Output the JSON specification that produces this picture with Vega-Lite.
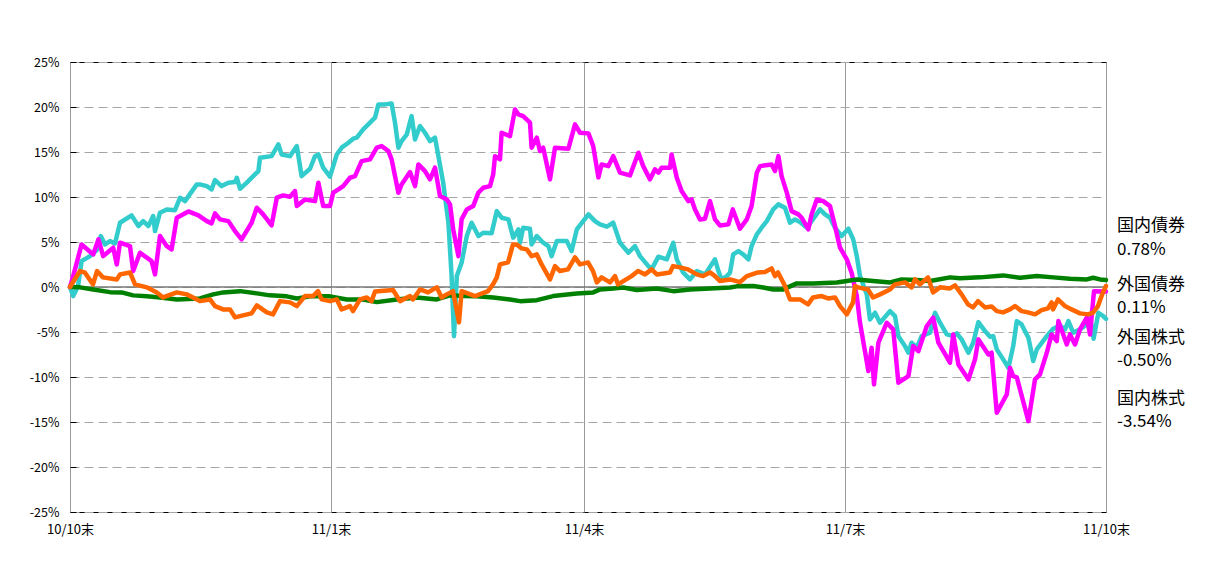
{
"$schema": "https://vega.github.io/schema/vega-lite/v6.json",
"width": 1036,
"height": 450,
"autosize": {"type": "none"},
"padding": {"left": 70, "top": 62, "right": 99, "bottom": 54},
"background": "white",
"config": {"view": {"stroke": "black", "strokeWidth": 1}, "font": "Noto Sans CJK JP"},
"datasets": {
"kokunai_kabu": [
{"d":0,"v":0},{"d":0.8,"v":-1.01},{"d":2,"v":0.07},{"d":2.9,"v":2.88},{"d":5,"v":3.43},{"d":6.7,"v":4.1},{"d":7.7,"v":5.66},{"d":8.75,"v":4.73},{"d":10,"v":5.1},{"d":11.25,"v":4.84},{"d":12.5,"v":7.14},{"d":15.4,"v":7.96},{"d":17.1,"v":6.77},{"d":18.3,"v":7.32},{"d":19.6,"v":6.77},{"d":20.8,"v":7.88},{"d":21.25,"v":6.21},{"d":22.5,"v":8.26},{"d":24.2,"v":8.62},{"d":26.25,"v":8.54},{"d":27.5,"v":9.92},{"d":28.75,"v":9.54},{"d":31.7,"v":11.4},{"d":32.5,"v":11.4},{"d":34.2,"v":11.21},{"d":35.4,"v":10.84},{"d":36.25,"v":11.88},{"d":37.9,"v":11.21},{"d":39.6,"v":11.59},{"d":41.25,"v":11.66},{"d":41.7,"v":12.14},{"d":42.5,"v":10.92},{"d":44.2,"v":11.59},{"d":46.25,"v":12.51},{"d":47.1,"v":12.88},{"d":47.5,"v":14.37},{"d":50.4,"v":14.54},{"d":52.1,"v":15.84},{"d":52.9,"v":14.73},{"d":55,"v":14.54},{"d":56.7,"v":15.66},{"d":57.9,"v":12.32},{"d":60,"v":13.14},{"d":61.25,"v":14.54},{"d":62.1,"v":14.73},{"d":63.3,"v":13.26},{"d":65,"v":12.26},{"d":66.7,"v":14.73},{"d":67.9,"v":15.48},{"d":69.6,"v":16.03},{"d":70.8,"v":16.48},{"d":71.7,"v":16.59},{"d":73.3,"v":17.51},{"d":75,"v":18.26},{"d":76.25,"v":18.81},{"d":77.1,"v":20.29},{"d":78.75,"v":20.29},{"d":80.4,"v":20.4},{"d":81.25,"v":18.26},{"d":82.1,"v":15.48},{"d":82.9,"v":16.21},{"d":84.2,"v":16.96},{"d":85.4,"v":18.99},{"d":86.25,"v":16.4},{"d":87.5,"v":17.88},{"d":88.75,"v":17.14},{"d":90,"v":16.21},{"d":91.25,"v":16.59},{"d":92.1,"v":14.54},{"d":93.3,"v":11.59},{"d":94.6,"v":7.14},{"d":95.4,"v":1.21},{"d":96,"v":-5.46},{"d":96.7,"v":1.21},{"d":97.9,"v":2.7},{"d":99.2,"v":5.66},{"d":100.4,"v":7.14},{"d":102.1,"v":5.66},{"d":103.3,"v":6.03},{"d":105.4,"v":5.96},{"d":106.7,"v":8.43},{"d":107.9,"v":7.7},{"d":109.6,"v":7.51},{"d":110.8,"v":5.48},{"d":112.1,"v":6.4},{"d":112.5,"v":4.92},{"d":113.3,"v":6.59},{"d":115,"v":6.48},{"d":115.4,"v":4.73},{"d":116.7,"v":5.66},{"d":118.3,"v":4.92},{"d":119.6,"v":4.54},{"d":120.4,"v":3.43},{"d":121.7,"v":5.1},{"d":124.2,"v":5.1},{"d":125.4,"v":3.99},{"d":126.7,"v":6.4},{"d":128.3,"v":7.32},{"d":129.6,"v":8.07},{"d":131.25,"v":7.32},{"d":132.5,"v":6.96},{"d":134.2,"v":6.7},{"d":135.8,"v":7.14},{"d":137.5,"v":4.92},{"d":139.6,"v":3.81},{"d":141.25,"v":4.54},{"d":142.5,"v":3.43},{"d":144.6,"v":2.32},{"d":145.4,"v":1.96},{"d":147.1,"v":3.37},{"d":149.2,"v":3.07},{"d":150.8,"v":4.92},{"d":151.7,"v":3.07},{"d":153.3,"v":1.59},{"d":155,"v":0.84},{"d":156.7,"v":1.77},{"d":158.75,"v":1.4},{"d":161.25,"v":3.07},{"d":162.1,"v":1.77},{"d":162.9,"v":0.84},{"d":164.2,"v":1.21},{"d":165,"v":1.59},{"d":165.8,"v":3.62},{"d":167.1,"v":3.99},{"d":168.3,"v":3.62},{"d":169.6,"v":3.07},{"d":170.4,"v":4.54},{"d":171.7,"v":5.84},{"d":172.9,"v":6.59},{"d":174.2,"v":7.32},{"d":175.8,"v":8.62},{"d":177.1,"v":9.18},{"d":178.75,"v":8.81},{"d":180,"v":7.14},{"d":181.25,"v":7.51},{"d":182.5,"v":7.21},{"d":184.2,"v":6.59},{"d":185.4,"v":7.32},{"d":187.5,"v":8.62},{"d":188.75,"v":8.07},{"d":190,"v":7.7},{"d":191.25,"v":6.59},{"d":192.9,"v":5.66},{"d":194.6,"v":6.48},{"d":195.8,"v":5.29},{"d":196.7,"v":3.43},{"d":197.5,"v":1.21},{"d":199.2,"v":-0.82},{"d":200,"v":-3.6},{"d":201.25,"v":-2.86},{"d":202.5,"v":-3.97},{"d":205,"v":-2.68},{"d":206.25,"v":-3.23},{"d":207.1,"v":-5.46},{"d":208.75,"v":-6.57},{"d":209.6,"v":-7.3},{"d":210.4,"v":-6.19},{"d":211.7,"v":-6.74},{"d":212.9,"v":-5.46},{"d":215,"v":-5.08},{"d":216.25,"v":-2.86},{"d":217.5,"v":-3.97},{"d":219.2,"v":-5.27},{"d":220.8,"v":-5.46},{"d":221.7,"v":-5.16},{"d":222.9,"v":-5.82},{"d":224.6,"v":-7.3},{"d":225.8,"v":-6.19},{"d":227.1,"v":-3.9},{"d":228.75,"v":-4.9},{"d":230,"v":-5.52},{"d":230.8,"v":-5.46},{"d":231.7,"v":-6.93},{"d":233.3,"v":-8.04},{"d":234.6,"v":-8.97},{"d":235.8,"v":-6.57},{"d":236.7,"v":-3.79},{"d":237.9,"v":-4.16},{"d":239.6,"v":-5.63},{"d":240.8,"v":-8.23},{"d":241.7,"v":-6.93},{"d":244.2,"v":-5.46},{"d":245.8,"v":-4.63},{"d":247.5,"v":-4.27},{"d":248.75,"v":-4.71},{"d":249.6,"v":-3.79},{"d":250.8,"v":-5.08},{"d":252.5,"v":-4.71},{"d":254.2,"v":-4.16},{"d":255,"v":-3.23},{"d":255.9,"v":-5.74},{"d":257.1,"v":-2.86},{"d":258.3,"v":-3.23},{"d":259,"v":-3.54}
],
"gaikoku_kabu": [
{"d":0,"v":0},{"d":1.25,"v":1.96},{"d":2.9,"v":4.73},{"d":5.8,"v":3.62},{"d":7.1,"v":5.29},{"d":8.3,"v":3.43},{"d":10.8,"v":4.37},{"d":11.7,"v":2.51},{"d":12.5,"v":4.92},{"d":15,"v":4.54},{"d":15.8,"v":1.77},{"d":17.5,"v":3.81},{"d":20.4,"v":2.88},{"d":21.25,"v":1.4},{"d":22.5,"v":5.66},{"d":24.2,"v":4.54},{"d":25.4,"v":4.18},{"d":26.7,"v":7.7},{"d":29.6,"v":8.4},{"d":32.1,"v":7.96},{"d":34.2,"v":7.32},{"d":35.4,"v":7.07},{"d":36.25,"v":8.18},{"d":37.5,"v":7.51},{"d":39.6,"v":7.32},{"d":41.25,"v":6.21},{"d":42.9,"v":5.29},{"d":45.4,"v":7.14},{"d":46.7,"v":8.81},{"d":48.3,"v":8.07},{"d":50.4,"v":6.84},{"d":51.7,"v":9.92},{"d":53.3,"v":10.18},{"d":55,"v":10.03},{"d":56.25,"v":10.66},{"d":56.7,"v":8.99},{"d":58.75,"v":9.73},{"d":61.25,"v":9.54},{"d":62.1,"v":11.59},{"d":63.3,"v":8.99},{"d":65,"v":8.99},{"d":65.8,"v":10.48},{"d":67.1,"v":10.84},{"d":68.3,"v":11.21},{"d":70,"v":12.14},{"d":71.25,"v":12.32},{"d":72.9,"v":13.99},{"d":75,"v":14.18},{"d":76.7,"v":15.48},{"d":77.9,"v":15.66},{"d":79.6,"v":15.1},{"d":80.4,"v":14.18},{"d":82.1,"v":10.48},{"d":82.9,"v":11.4},{"d":85,"v":12.77},{"d":86.25,"v":11.21},{"d":87.1,"v":13.62},{"d":88.75,"v":12.88},{"d":90,"v":11.96},{"d":91.25,"v":13.26},{"d":92.5,"v":10.1},{"d":94.2,"v":9.73},{"d":95,"v":9.18},{"d":95.8,"v":6.4},{"d":97.1,"v":3.43},{"d":97.9,"v":7.51},{"d":99.2,"v":8.62},{"d":100.8,"v":8.99},{"d":102.1,"v":10.48},{"d":103.3,"v":11.03},{"d":105,"v":11.21},{"d":105.8,"v":12.51},{"d":106.25,"v":14.54},{"d":107.5,"v":14.18},{"d":107.9,"v":17.14},{"d":110,"v":16.77},{"d":111.25,"v":19.73},{"d":112.1,"v":19.18},{"d":113.3,"v":18.99},{"d":115,"v":18.26},{"d":115.4,"v":15.48},{"d":116.7,"v":16.59},{"d":117.5,"v":15.1},{"d":118.3,"v":15.48},{"d":120,"v":11.96},{"d":121.25,"v":15.48},{"d":124.6,"v":15.37},{"d":126.25,"v":18.07},{"d":127.5,"v":17.14},{"d":129.6,"v":17.07},{"d":130.8,"v":15.66},{"d":132.1,"v":12.18},{"d":132.9,"v":13.62},{"d":134.6,"v":13.43},{"d":135.8,"v":14.54},{"d":137.5,"v":12.7},{"d":140,"v":12.4},{"d":142.1,"v":14.92},{"d":143.3,"v":13.43},{"d":145,"v":11.96},{"d":146.25,"v":13.07},{"d":147.1,"v":12.7},{"d":147.9,"v":13.26},{"d":150,"v":13.26},{"d":150.4,"v":14.73},{"d":151.7,"v":12.14},{"d":152.9,"v":10.66},{"d":154.6,"v":9.54},{"d":155.4,"v":9.73},{"d":156.25,"v":8.62},{"d":157.5,"v":7.51},{"d":158.75,"v":7.59},{"d":160,"v":9.54},{"d":161.25,"v":7.51},{"d":162.5,"v":6.84},{"d":164.6,"v":6.96},{"d":165.7,"v":8.62},{"d":167.5,"v":6.48},{"d":169.2,"v":7.51},{"d":170.4,"v":8.99},{"d":171.7,"v":12.7},{"d":172.5,"v":13.43},{"d":175.4,"v":13.62},{"d":176.25,"v":12.88},{"d":177.1,"v":14.54},{"d":177.9,"v":12.32},{"d":179.2,"v":10.48},{"d":180.4,"v":8.43},{"d":182.1,"v":8.07},{"d":182.9,"v":7.7},{"d":184.6,"v":6.4},{"d":185.4,"v":8.07},{"d":186.7,"v":9.73},{"d":188.3,"v":9.54},{"d":190,"v":8.99},{"d":191.25,"v":6.77},{"d":192.5,"v":4.37},{"d":194.2,"v":3.07},{"d":195.4,"v":1.59},{"d":196.7,"v":-1.01},{"d":197.5,"v":-3.97},{"d":199.6,"v":-9.34},{"d":200.4,"v":-6.74},{"d":201,"v":-10.82},{"d":202.1,"v":-6.19},{"d":204.2,"v":-3.97},{"d":205.8,"v":-4.71},{"d":207.1,"v":-10.63},{"d":209.6,"v":-9.9},{"d":210.8,"v":-6.57},{"d":212.1,"v":-7.12},{"d":214.2,"v":-4.34},{"d":215.8,"v":-3.41},{"d":217.1,"v":-6.19},{"d":220,"v":-8.41},{"d":220.8,"v":-5.27},{"d":222.1,"v":-8.6},{"d":224.6,"v":-10.27},{"d":226.25,"v":-8.04},{"d":227.1,"v":-5.82},{"d":229.6,"v":-7.49},{"d":230.4,"v":-7.3},{"d":231.7,"v":-13.97},{"d":234.2,"v":-11.93},{"d":235,"v":-8.97},{"d":235.8,"v":-9.9},{"d":236.7,"v":-10.04},{"d":239.6,"v":-14.9},{"d":241.25,"v":-10.27},{"d":242.5,"v":-9.71},{"d":244.2,"v":-7.3},{"d":245.4,"v":-5.27},{"d":246.7,"v":-6.01},{"d":247.1,"v":-3.79},{"d":249.2,"v":-6.38},{"d":250,"v":-5.27},{"d":251.25,"v":-6.38},{"d":252.5,"v":-4.71},{"d":254.2,"v":-3.41},{"d":255,"v":-5.27},{"d":256,"v":-0.46},{"d":259,"v":-0.5}
],
"kokunai_sai": [
{"d":0,"v":0},{"d":2.5,"v":-0.04},{"d":5.8,"v":-0.27},{"d":10,"v":-0.57},{"d":12.9,"v":-0.6},{"d":15.8,"v":-0.93},{"d":19.2,"v":-1.04},{"d":22.5,"v":-1.16},{"d":26.7,"v":-1.38},{"d":32.5,"v":-1.27},{"d":35.8,"v":-0.82},{"d":38.3,"v":-0.6},{"d":42.5,"v":-0.46},{"d":46.7,"v":-0.71},{"d":50,"v":-0.93},{"d":54.2,"v":-1.04},{"d":56.7,"v":-1.27},{"d":60,"v":-1.04},{"d":65,"v":-1.04},{"d":69.2,"v":-1.38},{"d":73.3,"v":-1.38},{"d":76.7,"v":-1.68},{"d":81.7,"v":-1.38},{"d":86.7,"v":-1.16},{"d":91.7,"v":-1.38},{"d":95,"v":-0.93},{"d":98.3,"v":-1.01},{"d":101.7,"v":-1.04},{"d":105.8,"v":-1.16},{"d":110,"v":-1.38},{"d":112.5,"v":-1.57},{"d":116.7,"v":-1.46},{"d":120.8,"v":-1.01},{"d":126.7,"v":-0.71},{"d":130.8,"v":-0.6},{"d":132.5,"v":-0.27},{"d":135.8,"v":-0.16},{"d":138.3,"v":-0.05},{"d":141.7,"v":-0.34},{"d":146.7,"v":-0.16},{"d":150.8,"v":-0.46},{"d":155,"v":-0.27},{"d":160,"v":-0.16},{"d":165,"v":-0.05},{"d":166.7,"v":0.07},{"d":170.8,"v":0.1},{"d":173.3,"v":-0.05},{"d":175.8,"v":-0.27},{"d":178.3,"v":-0.27},{"d":181.7,"v":0.4},{"d":185.8,"v":0.4},{"d":191.7,"v":0.51},{"d":196.7,"v":0.84},{"d":200.8,"v":0.66},{"d":205,"v":0.51},{"d":207.9,"v":0.84},{"d":211.7,"v":0.77},{"d":215,"v":0.66},{"d":220,"v":1.07},{"d":222.5,"v":0.96},{"d":227.5,"v":1.07},{"d":233.3,"v":1.29},{"d":237.5,"v":1.03},{"d":241.7,"v":1.21},{"d":245.8,"v":1.07},{"d":250,"v":0.92},{"d":254.2,"v":0.84},{"d":255.8,"v":1.03},{"d":257.5,"v":0.84},{"d":259,"v":0.78}
],
"gaikoku_sai": [
{"d":0,"v":0},{"d":2.5,"v":1.77},{"d":3.75,"v":1.59},{"d":5.75,"v":0.29},{"d":6.75,"v":1.77},{"d":8.25,"v":1.07},{"d":11.7,"v":0.84},{"d":12.5,"v":1.4},{"d":15,"v":1.62},{"d":16.25,"v":0.29},{"d":19.2,"v":-0.04},{"d":21.7,"v":-0.6},{"d":23.25,"v":-1.16},{"d":26.7,"v":-0.6},{"d":29.2,"v":-0.82},{"d":31.25,"v":-1.27},{"d":32.5,"v":-1.57},{"d":35,"v":-1.38},{"d":36.25,"v":-2.12},{"d":38.25,"v":-2.49},{"d":40,"v":-2.49},{"d":41.25,"v":-3.38},{"d":43.25,"v":-3.16},{"d":45.4,"v":-2.93},{"d":46.7,"v":-2.04},{"d":49.2,"v":-2.82},{"d":50.75,"v":-3.04},{"d":52.5,"v":-1.57},{"d":55,"v":-1.71},{"d":56.7,"v":-2.12},{"d":58.75,"v":-1.01},{"d":60.75,"v":-1.01},{"d":62,"v":-0.46},{"d":62.9,"v":-1.38},{"d":65,"v":-1.57},{"d":66.7,"v":-1.38},{"d":67.9,"v":-2.49},{"d":70,"v":-2.12},{"d":70.75,"v":-2.68},{"d":72.5,"v":-1.38},{"d":74.2,"v":-1.16},{"d":75.4,"v":-1.57},{"d":76.25,"v":-0.49},{"d":80.75,"v":-0.34},{"d":82.5,"v":-1.57},{"d":85,"v":-1.01},{"d":85.75,"v":-1.38},{"d":87.5,"v":-0.27},{"d":89.5,"v":-0.6},{"d":91.7,"v":-0.04},{"d":92.9,"v":-1.16},{"d":94.2,"v":-0.82},{"d":95.75,"v":-0.46},{"d":97.25,"v":-3.93},{"d":97.9,"v":-0.46},{"d":101.25,"v":-1.01},{"d":104.5,"v":-0.46},{"d":105.75,"v":0.29},{"d":106.7,"v":1.07},{"d":107.5,"v":2.51},{"d":109.5,"v":2.73},{"d":110.75,"v":4.73},{"d":111.7,"v":4.73},{"d":112.9,"v":4.29},{"d":114.2,"v":4.18},{"d":115.4,"v":3.43},{"d":116.7,"v":3.62},{"d":117.9,"v":2.51},{"d":120,"v":0.84},{"d":121.25,"v":2.32},{"d":122.5,"v":1.77},{"d":124.5,"v":1.96},{"d":126.25,"v":3.29},{"d":127.5,"v":2.51},{"d":129.5,"v":2.73},{"d":130.75,"v":1.77},{"d":131.7,"v":0.51},{"d":132.9,"v":1.07},{"d":135,"v":0.51},{"d":136.25,"v":1.21},{"d":137,"v":0.29},{"d":140.4,"v":1.21},{"d":142,"v":1.77},{"d":143.75,"v":1.4},{"d":145.4,"v":1.96},{"d":146.7,"v":1.4},{"d":150,"v":1.62},{"d":150.75,"v":2.32},{"d":152.5,"v":2.18},{"d":154.5,"v":1.96},{"d":156.7,"v":1.4},{"d":158.25,"v":1.21},{"d":160,"v":1.62},{"d":161.25,"v":1.21},{"d":162.5,"v":0.66},{"d":165,"v":0.84},{"d":167.5,"v":0.54},{"d":169.2,"v":1.21},{"d":172,"v":1.62},{"d":173.75,"v":1.66},{"d":175.4,"v":2.07},{"d":176.25,"v":1.21},{"d":177,"v":1.62},{"d":178.75,"v":0.1},{"d":180,"v":-1.38},{"d":182.5,"v":-1.38},{"d":184.5,"v":-1.93},{"d":185.75,"v":-1.16},{"d":187.9,"v":-1.01},{"d":189.5,"v":-1.27},{"d":191.25,"v":-1.16},{"d":192.5,"v":-2.12},{"d":194.2,"v":-3.04},{"d":195.75,"v":-1.71},{"d":196.25,"v":0.1},{"d":197,"v":-0.04},{"d":199.5,"v":-0.27},{"d":200.75,"v":-1.16},{"d":202.5,"v":-0.82},{"d":205,"v":-0.27},{"d":206.25,"v":0.29},{"d":208.75,"v":0.51},{"d":210.4,"v":-0.04},{"d":211.25,"v":0.84},{"d":212.5,"v":0.29},{"d":214.5,"v":1.07},{"d":215.75,"v":-0.6},{"d":217.5,"v":-0.04},{"d":220,"v":-0.16},{"d":221.25,"v":0.18},{"d":222.9,"v":-0.82},{"d":224.5,"v":-1.93},{"d":225.75,"v":-2.27},{"d":227,"v":-1.57},{"d":228.75,"v":-2.27},{"d":230.4,"v":-2.16},{"d":231.7,"v":-2.68},{"d":233.25,"v":-2.82},{"d":235,"v":-2.49},{"d":236.25,"v":-2.12},{"d":237.9,"v":-2.68},{"d":239.5,"v":-2.82},{"d":241.25,"v":-3.04},{"d":242.9,"v":-2.57},{"d":244.5,"v":-2.38},{"d":245.4,"v":-1.71},{"d":245.75,"v":-2.49},{"d":247,"v":-1.38},{"d":248.75,"v":-2.12},{"d":250.4,"v":-2.49},{"d":252.5,"v":-2.93},{"d":254.5,"v":-3.04},{"d":255.75,"v":-2.86},{"d":257,"v":-2.12},{"d":258.2,"v":-0.63},{"d":259,"v":0.11}
],
"zero": [{"d":0,"v":0},{"d":259,"v":0}],
"labels": [
{"t":"国内債券","d":259,"v":6.82},{"t":"\u00a0\u00a00.78%","d":259,"v":4.07},
{"t":"外国債券","d":259,"v":0.18},{"t":"\u00a0\u00a00.11%","d":259,"v":-2.38},
{"t":"外国株式","d":259,"v":-5.71},{"t":"-0.50%","d":259,"v":-8.27},
{"t":"国内株式","d":259,"v":-12.49},{"t":"-3.54%","d":259,"v":-15.04}
]
},
"encoding": {
"x": {"field": "d", "type": "quantitative", "scale": {"domain": [0, 259], "nice": false, "zero": false},
"axis": {"title": null, "values": [0, 65.25, 128.5, 193.75, 259], "labelExpr": "datum.value == 0 ? '10/10末' : datum.value < 70 ? '11/1末' : datum.value < 130 ? '11/4末' : datum.value < 200 ? '11/7末' : '11/10末'", "grid": true, "gridColor": "#9a9a9a", "gridWidth": 1, "ticks": false, "domain": false, "labelFont": "Noto Sans CJK JP", "labelFontSize": 13, "labelColor": "black", "labelPadding": 11, "labelFlush": false}},
"y": {"field": "v", "type": "quantitative", "scale": {"domain": [-25, 25], "nice": false},
"axis": {"title": null, "values": [-25, -20, -15, -10, -5, 0, 5, 10, 15, 20, 25], "labelExpr": "datum.value + '%'", "grid": true, "gridColor": "#a6a6a6", "gridWidth": 1, "gridDash": [9, 5], "ticks": true, "tickSize": -6, "tickColor": "black", "domain": false, "labelFont": "Noto Sans CJK JP", "labelFontSize": 12.5, "labelColor": "black", "labelPadding": 17}}
},
"layer": [
{"data": {"name": "zero"}, "mark": {"type": "line", "color": "#777777", "strokeWidth": 1.5}},
{"data": {"name": "kokunai_kabu"}, "mark": {"type": "line", "color": "#33CCCC", "strokeWidth": 4.5, "strokeJoin": "round", "strokeCap": "round"}},
{"data": {"name": "gaikoku_kabu"}, "mark": {"type": "line", "color": "#FF00FF", "strokeWidth": 4.5, "strokeJoin": "round", "strokeCap": "round"}},
{"data": {"name": "kokunai_sai"}, "mark": {"type": "line", "color": "#008000", "strokeWidth": 4.5, "strokeJoin": "round", "strokeCap": "round"}},
{"data": {"name": "gaikoku_sai"}, "mark": {"type": "line", "color": "#FF6600", "strokeWidth": 4.5, "strokeJoin": "round", "strokeCap": "round"}},
{
"data": {"name": "labels"},
"mark": {"type": "text", "align": "left", "baseline": "middle", "dx": 11, "font": "Noto Sans CJK JP", "fontSize": 17, "color": "black"},
"encoding": {"text": {"field": "t"}}
}
]
}
